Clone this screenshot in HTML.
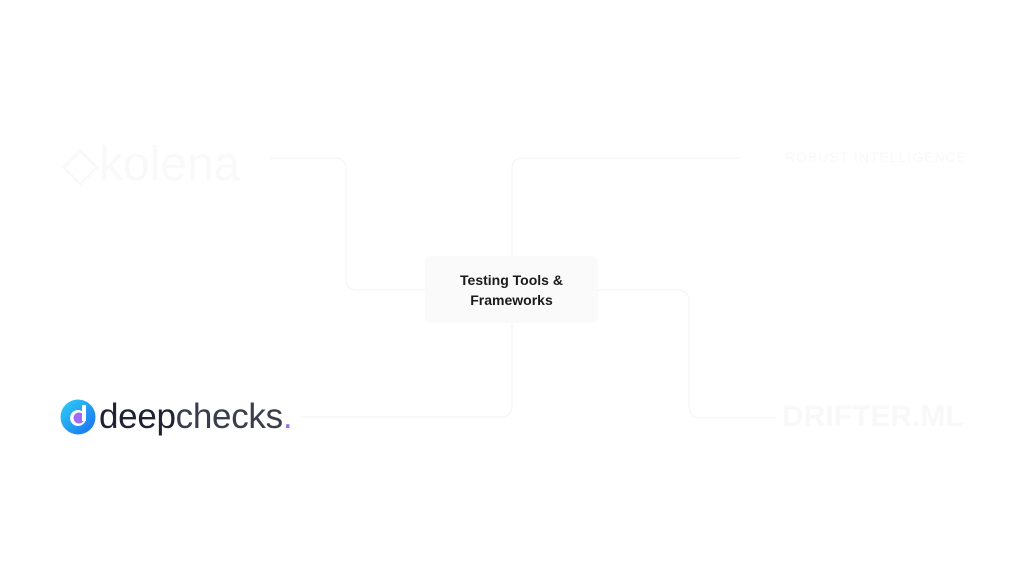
<!DOCTYPE html>
<html><head><meta charset="utf-8"><style>
body{margin:0;width:1024px;height:576px;background:#fff;position:relative;overflow:hidden;font-family:"Liberation Sans",sans-serif}
.box{position:absolute;left:425px;top:256px;width:173px;height:67px;background:#fafafa;border-radius:6px;display:flex;align-items:center;justify-content:center;text-align:center;font-size:14px;line-height:20px;color:#1a1a1a;font-weight:bold}
.dc{position:absolute;left:99px;top:397px;font-size:35px;color:#3a3d4c;letter-spacing:-0.3px}
</style></head><body>
<svg width="1024" height="576" style="position:absolute;left:0;top:0" fill="none" stroke="#f5f5f7" stroke-width="1.2">
<path d="M425 290 H357 Q346 290 346 279 V169 Q346 158 335 158 H270"/>
<path d="M512 256 V169 Q512 158 523 158 H740"/>
<path d="M598 290 H678 Q689 290 689 301 V405 Q689 418 700 418 H776"/>
<path d="M512 323 V405 Q512 417 501 417 H300"/>
</svg>
<div style="position:absolute;left:62px;top:136px;font-size:48px;color:#f9f9f9;">◇kolena</div>
<div style="position:absolute;left:785px;top:149px;font-size:14px;color:#f8f8f8;letter-spacing:1px">ROBUST INTELLIGENCE</div>
<div style="position:absolute;left:782px;top:400px;font-size:30px;font-weight:bold;color:#f8f8f8">DRIFTER.ML</div>
<div class="box">Testing Tools &amp;<br>Frameworks</div>
<svg width="40" height="40" style="position:absolute;left:60px;top:399px">
<defs><linearGradient id="g" x1="0" y1="0" x2="1" y2="1"><stop offset="0" stop-color="#2fd2f5"/><stop offset="1" stop-color="#1a6cf0"/></linearGradient></defs>
<circle cx="18" cy="18" r="17.5" fill="url(#g)"/>
<circle cx="18" cy="19" r="8" fill="#fff"/>
<circle cx="19" cy="19" r="5.5" fill="#9d6cf5"/>
<rect x="22" y="6" width="4" height="16" fill="#fff"/>
</svg>
<div class="dc"><span style="color:#1f2233">deep</span>checks<span style="color:#9d6cf5">.</span></div>
</body></html>
